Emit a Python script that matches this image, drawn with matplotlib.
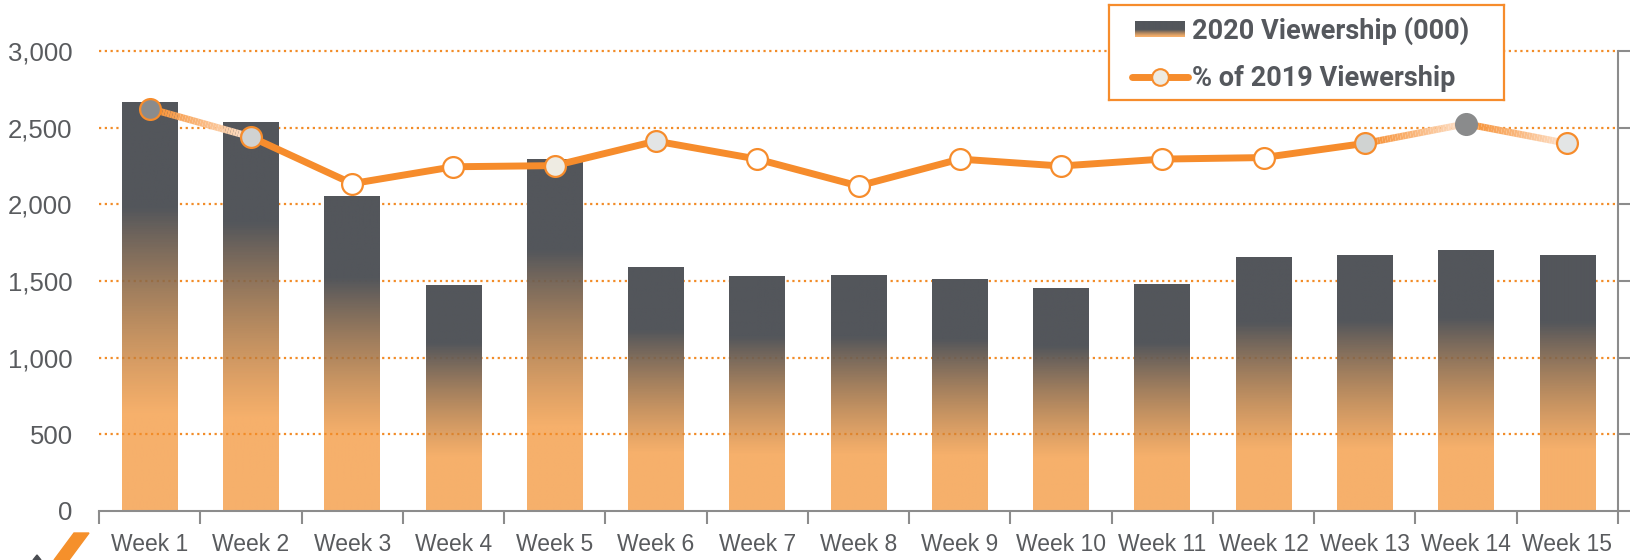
import numpy as np
import matplotlib
matplotlib.use("Agg")
import matplotlib.pyplot as plt
from matplotlib.collections import LineCollection
from matplotlib.patches import Polygon
from matplotlib.colors import to_rgba

# ---------------- data ----------------
weeks = [f"Week {i}" for i in range(1, 16)]
viewership_2020 = [2668, 2537, 2054, 1474, 2296, 1591, 1533, 1539, 1513, 1454, 1480, 1657, 1672, 1699, 1668]
pct_of_2019 = [105.0, 97.6, 85.4, 89.8, 90.1, 96.5, 91.8, 84.8, 91.8, 90.0, 91.8, 92.2, 95.9, 101.0, 95.9]
y_ticks = [0, 500, 1000, 1500, 2000, 2500, 3000]
y2_ticks = [0, 20, 40, 60, 80, 100, 120]

# ---------------- style ----------------
W, H = 1630, 560
DARK = "#53565b"
ORANGE = "#f28c28"
LINE_OR = "#f68c2c"
GRID = "#f28c28"
TXT = "#595b5e"
AXGREY = "#8c8c8c"
TICKFONT = ["Liberation Sans", "DejaVu Sans"]
LEGFONT = ["Roboto", "DejaVu Sans"]

marker_faces = ["#8a8b8c", "#d0d2d2", "white", "white", "#eeebe2", "#e3e5e5", "white", "white",
                "white", "white", "white", "white", "#d0d3d2", "#8a8b8c", "#e3e5e5"]
marker_edges = [LINE_OR] * 15
marker_edges[13] = "#8a8b8c"
fade_segments = {0, 12, 13}


def gradient_rgba(n=256, lo=0.24, hi=0.74):
    """rows from top (index 0) to bottom"""
    t = np.linspace(1, 0, n)  # fraction of height, top=1
    dark = np.array(to_rgba(DARK))
    org = np.array(to_rgba(ORANGE))
    org[3] = 0.69
    f = np.clip((t - lo) / (hi - lo), 0, 1)[:, None]
    cols = org * (1 - f) + dark * f
    return cols[:, None, :]


fig = plt.figure(figsize=(W / 100, H / 100), dpi=100)
ax = fig.add_axes([99 / W, (H - 511) / H, 1519 / W, 460 / H])
x = np.arange(len(weeks))

ax.set_xlim(-0.5, len(weeks) - 0.5)
ax.set_ylim(y_ticks[0], y_ticks[-1])

# gridlines (behind bars)
for v in y_ticks[1:]:
    ax.axhline(v, color=GRID, lw=1.6, ls=(0, (1, 1.6)), zorder=0.5, clip_on=False)

# gradient bars
bars = ax.bar(x, viewership_2020, width=0.55, color="none", edgecolor="none", zorder=2)
grad = gradient_rgba()
for b in bars:
    x0, w, h = b.get_x(), b.get_width(), b.get_height()
    im = ax.imshow(grad, extent=(x0, x0 + w, 0, h), aspect="auto", zorder=2,
                   interpolation="bilinear")
    im.set_clip_path(b)
ax.set_xlim(-0.5, len(weeks) - 0.5)
ax.set_ylim(y_ticks[0], y_ticks[-1])

# axes styling
for s in ["left", "top", "right"]:
    ax.spines[s].set_visible(False)
ax.spines["bottom"].set_color(AXGREY)
ax.spines["bottom"].set_linewidth(1.5)
ax.set_yticks(y_ticks)
ax.set_yticklabels([f"{v:,}" for v in y_ticks], fontsize=18.5, color=TXT, family=TICKFONT)
ax.tick_params(axis="y", length=0, pad=19)
ax.set_xticks(np.arange(-0.5, len(weeks), 1))
ax.set_xticklabels([])
ax.tick_params(axis="x", which="major", length=9, width=1.5, color=AXGREY, direction="out")
ax.set_xticks(x, minor=True)
ax.set_xticklabels(weeks, minor=True, fontsize=16.5, color=TXT, family=TICKFONT)
ax.tick_params(axis="x", which="minor", length=0, pad=16)

# secondary axis with line
ax2 = ax.twinx()
ax2.set_ylim(y2_ticks[0], y2_ticks[-1])
ax2.set_yticks(y2_ticks)
ax2.set_yticklabels([])
ax2.tick_params(axis="y", length=11, width=1.5, color=AXGREY, direction="out")
for s in ["left", "top", "bottom"]:
    ax2.spines[s].set_visible(False)
ax2.spines["right"].set_color(AXGREY)
ax2.spines["right"].set_linewidth(1.5)

light = np.array(to_rgba("#fde3cf"))
base = np.array(to_rgba(LINE_OR))
for i in range(len(weeks) - 1):
    xs = np.array([x[i], x[i + 1]], dtype=float)
    ys = np.array([pct_of_2019[i], pct_of_2019[i + 1]], dtype=float)
    if i in fade_segments:
        n = 40
        tt = np.linspace(0, 1, n + 1)
        px = xs[0] + (xs[1] - xs[0]) * tt
        py = ys[0] + (ys[1] - ys[0]) * tt
        segs = np.stack([np.column_stack([px[:-1], py[:-1]]), np.column_stack([px[1:], py[1:]])], axis=1)
        tm = (tt[:-1] + tt[1:]) / 2
        cols = base[None, :] * (1 - tm[:, None]) + light[None, :] * tm[:, None]
        lc = LineCollection(segs, colors=cols, linewidths=5, capstyle="butt", zorder=3)
        ax2.add_collection(lc)
    else:
        ax2.plot(xs, ys, color=LINE_OR, lw=5, solid_capstyle="butt", zorder=3)
for i in range(len(weeks)):
    ax2.plot(x[i], pct_of_2019[i], marker="o", ms=15, mfc=marker_faces[i], mec=marker_edges[i],
             mew=1.6, ls="none", zorder=4)

# legend (drawn manually)
lg = fig.add_axes([1109 / W, (H - 100) / H, 395 / W, 95 / H], zorder=10)
lg.set_xlim(0, 395)
lg.set_ylim(95, 0)
lg.set_xticks([])
lg.set_yticks([])
for s in lg.spines.values():
    s.set_color(LINE_OR)
    s.set_linewidth(1.6)
lg.imshow(gradient_rgba(lo=0.05, hi=0.45), extent=(26, 76, 32, 16.7), aspect="auto")
lg.set_xlim(0, 395)
lg.set_ylim(95, 0)
lg.plot([23, 79], [72, 72], color=LINE_OR, lw=5, solid_capstyle="round")
lg.plot([51], [72], marker="o", ms=12, mfc="#eeebe2", mec=LINE_OR, mew=1.5)
lg.text(83, 34.3, "2020 Viewership (000)", fontsize=19.5, family=LEGFONT, weight="bold",
        color="#55585d", va="baseline", ha="left")
lg.text(83, 81, "% of 2019 Viewership", fontsize=19.5, family=LEGFONT, weight="bold",
        color="#55585d", va="baseline", ha="left")

# decorative logo fragment
fig.patches.append(Polygon([(74 / W, 1 - 533 / H), (89 / W, 1 - 533 / H), (69 / W, 0), (54 / W, 0)],
                           closed=True, transform=fig.transFigure, color="#f5902b"))
fig.patches.append(Polygon([(37 / W, 1 - 555 / H), (41 / W, 0), (33 / W, 0)],
                           closed=True, transform=fig.transFigure, color="#4a4d52"))

fig.savefig("out.png", dpi=100)
